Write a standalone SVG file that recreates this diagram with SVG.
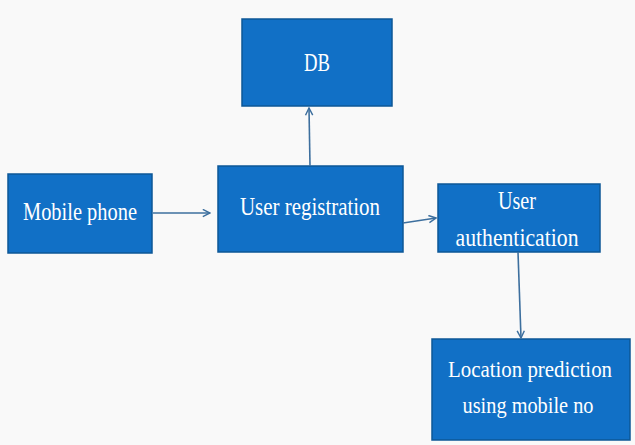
<svg xmlns="http://www.w3.org/2000/svg" width="635" height="445" viewBox="0 0 635 445">
  <style>
    .box { fill: #1170c6; stroke: #0d5796; stroke-width: 1.5; }
    .lbl { fill: #ffffff; font-family: "Liberation Serif", "DejaVu Serif", serif; font-size: 25px; text-anchor: middle; }
    .sm { font-size: 23px; }
    .conn { stroke: #3d6f9e; stroke-width: 1.6; fill: none; marker-end: url(#chev); }
  </style>
  <defs>
    <marker id="chev" viewBox="0 0 10 10" refX="9" refY="5" markerWidth="9" markerHeight="9" markerUnits="userSpaceOnUse" orient="auto">
      <path d="M1,1 L9,5 L1,9" fill="none" stroke="#3d6f9e" stroke-width="1.6"/>
    </marker>
  </defs>
  <rect width="635" height="445" fill="#f9f9f9"/>

  <g id="db">
    <rect class="box" x="242" y="19" width="150" height="87"/>
    <text class="lbl" x="317" y="71" textLength="26" lengthAdjust="spacingAndGlyphs">DB</text>
  </g>
  <g id="mobile-phone">
    <rect class="box" x="8" y="174" width="144" height="79"/>
    <text class="lbl" x="80" y="220" textLength="114" lengthAdjust="spacingAndGlyphs">Mobile phone</text>
  </g>
  <g id="user-registration">
    <rect class="box" x="218" y="166" width="185" height="86"/>
    <text class="lbl" x="310" y="215" textLength="140" lengthAdjust="spacingAndGlyphs">User registration</text>
  </g>
  <g id="user-authentication">
    <rect class="box" x="438" y="184" width="162" height="68"/>
    <text class="lbl" x="517" y="209" textLength="38" lengthAdjust="spacingAndGlyphs">User</text>
    <text class="lbl" x="517" y="246" textLength="123" lengthAdjust="spacingAndGlyphs">authentication</text>
  </g>
  <g id="location-prediction">
    <rect class="box" x="432" y="339" width="198" height="101"/>
    <text class="lbl sm" x="530" y="377" textLength="164" lengthAdjust="spacingAndGlyphs">Location prediction</text>
    <text class="lbl sm" x="528" y="413" textLength="131" lengthAdjust="spacingAndGlyphs">using mobile no</text>
  </g>

  <g id="connectors">
    <line class="conn" x1="310" y1="166" x2="309" y2="108"/>
    <line class="conn" x1="153" y1="213" x2="210" y2="213"/>
    <line class="conn" x1="403" y1="223" x2="436" y2="218"/>
    <line class="conn" x1="518" y1="252" x2="521" y2="338"/>
  </g>
</svg>
